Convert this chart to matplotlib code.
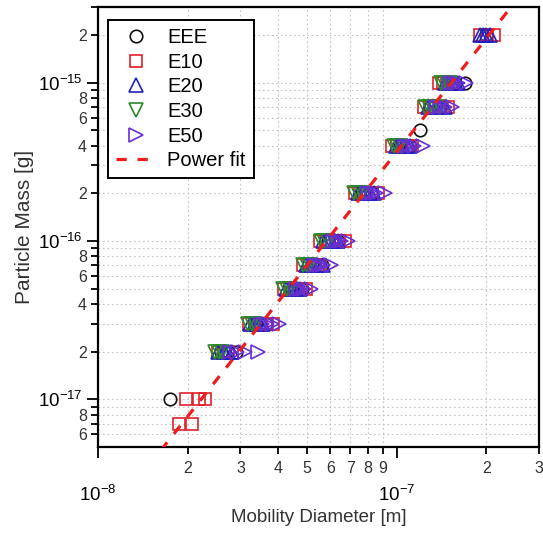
import matplotlib
matplotlib.use("Agg")
import matplotlib.pyplot as plt
import numpy as np

plt.rcParams['font.family'] = ['Liberation Sans', 'DejaVu Sans']
plt.rcParams['mathtext.fontset'] = 'custom'
plt.rcParams['mathtext.rm'] = 'Liberation Sans'
plt.rcParams['mathtext.it'] = 'Liberation Sans:italic'
plt.rcParams['mathtext.bf'] = 'Liberation Sans:bold'

# ---------------- data (diameter in nm, mass in g) ----------------
eee_d_nm = [17.4, 25.8, 29.0, 33.8, 36.5, 44.6, 48.2, 52.1, 56.3, 58.9, 63.7,
            76.6, 82.7, 102.7, 110.9, 119.8, 129.4, 139.8, 156.9, 169.5, 199.3]
eee_m = [1e-17, 2e-17, 2e-17, 3e-17, 3e-17, 5e-17, 5e-17, 7e-17, 7e-17, 1e-16, 1e-16,
         2e-16, 2e-16, 4e-16, 4e-16, 5e-16, 7e-16, 7e-16, 1e-15, 1e-15, 2e-15]

e10_d_nm = [18.7, 20.6,
            19.7, 21.8, 22.8,
            25.2, 26.5, 27.2,
            32.1, 33.5, 34.9, 36.8, 38.5,
            42.0, 44.0, 46.0, 48.0, 49.7,
            48.6, 51.0, 53.3, 55.5,
            55.4, 58.0, 60.8, 64.0, 67.2,
            72.6, 75.5, 78.4, 82.5, 86.6,
            96.5, 100.5, 104.3, 108.5, 112.6,
            123.5, 129.0, 134.5, 141.5, 148.7,
            138.5, 143.1, 148.0, 153.3,
            190.2, 201.0, 212.0]
e10_m = [7e-18, 7e-18,
         1e-17, 1e-17, 1e-17,
         2e-17, 2e-17, 2e-17,
         3e-17, 3e-17, 3e-17, 3e-17, 3e-17,
         5e-17, 5e-17, 5e-17, 5e-17, 5e-17,
         7e-17, 7e-17, 7e-17, 7e-17,
         1e-16, 1e-16, 1e-16, 1e-16, 1e-16,
         2e-16, 2e-16, 2e-16, 2e-16, 2e-16,
         4e-16, 4e-16, 4e-16, 4e-16, 4e-16,
         7e-16, 7e-16, 7e-16, 7e-16, 7e-16,
         1e-15, 1e-15, 1e-15, 1e-15,
         2e-15, 2e-15, 2e-15]

e20_d_nm = [25.2, 26.4, 27.3, 28.1,
            32.3, 33.2, 34.1, 35.0, 35.7,
            42.6, 43.8, 45.0, 46.2, 47.5,
            49.7, 51.0, 52.5, 54.5, 56.7,
            56.7, 58.5, 60.3, 62.0, 63.7,
            74.3, 76.6, 79.0, 81.5, 84.0,
            99.5, 102.0, 105.0, 108.0, 110.9,
            127.4, 131.5, 135.5, 140.0, 145.3,
            145.3, 149.0, 153.3, 157.0, 160.6,
            190.2, 195.0, 199.3, 205.5]
e20_m = [2e-17, 2e-17, 2e-17, 2e-17,
         3e-17, 3e-17, 3e-17, 3e-17, 3e-17,
         5e-17, 5e-17, 5e-17, 5e-17, 5e-17,
         7e-17, 7e-17, 7e-17, 7e-17, 7e-17,
         1e-16, 1e-16, 1e-16, 1e-16, 1e-16,
         2e-16, 2e-16, 2e-16, 2e-16, 2e-16,
         4e-16, 4e-16, 4e-16, 4e-16, 4e-16,
         7e-16, 7e-16, 7e-16, 7e-16, 7e-16,
         1e-15, 1e-15, 1e-15, 1e-15, 1e-15,
         2e-15, 2e-15, 2e-15, 2e-15]

e30_d_nm = [24.7, 25.4, 26.0,
            31.8, 32.7, 33.6,
            41.6, 42.8, 44.0,
            48.6, 50.0, 51.3,
            55.8, 57.3, 58.9,
            72.0, 74.3, 76.6,
            98.0, 100.5, 102.7,
            124.5, 128.0, 131.4, 139.8,
            140.9, 144.0, 147.5, 151.0]
e30_m = [2e-17, 2e-17, 2e-17,
         3e-17, 3e-17, 3e-17,
         5e-17, 5e-17, 5e-17,
         7e-17, 7e-17, 7e-17,
         1e-16, 1e-16, 1e-16,
         2e-16, 2e-16, 2e-16,
         4e-16, 4e-16, 4e-16,
         7e-16, 7e-16, 7e-16, 7e-16,
         1e-15, 1e-15, 1e-15, 1e-15]

e50_d_nm = [27.7, 29.3, 31.1, 34.3,
            35.4, 36.8, 38.2, 40.4,
            46.0, 47.5, 49.0, 51.7,
            53.3, 55.0, 56.7, 60.3,
            61.2, 63.0, 65.1, 68.8,
            80.2, 82.7, 85.3, 91.4,
            106.7, 110.5, 114.4, 122.6,
            135.5, 140.0, 145.3, 153.3,
            151.0, 155.5, 160.6, 170.8]
e50_m = [2e-17, 2e-17, 2e-17, 2e-17,
         3e-17, 3e-17, 3e-17, 3e-17,
         5e-17, 5e-17, 5e-17, 5e-17,
         7e-17, 7e-17, 7e-17, 7e-17,
         1e-16, 1e-16, 1e-16, 1e-16,
         2e-16, 2e-16, 2e-16, 2e-16,
         4e-16, 4e-16, 4e-16, 4e-16,
         7e-16, 7e-16, 7e-16, 7e-16,
         1e-15, 1e-15, 1e-15, 1e-15]

# power fit  m = a * d^b  (d in m, m in g)
fit_a = 18.34
fit_b = 2.386

series_labels = ['EEE', 'E10', 'E20', 'E30', 'E50']
x_minor_labels = ['2', '3', '4', '5', '6', '7', '8', '9', '2', '3']
y_minor_labels = ['6', '', '8', '', '2', '', '4', '', '6', '', '8', '',
                  '2', '', '4', '', '6', '', '8', '', '2', '']

# ---------------- figure ----------------
W, H = 543, 534
fig = plt.figure(figsize=(W / 100, H / 100), dpi=100)
ax = fig.add_axes([98 / W, (H - 447) / H, 441 / W, 440 / H])
ax.set_xscale('log')
ax.set_yscale('log')
ax.set_xlim(1e-8, 3e-7)
ax.set_ylim(5e-18, 3e-15)

# grid
grid_kw = dict(color='#c4c4c4', lw=0.8, ls=(0, (1.5, 2.5)), zorder=0)
x_minor = [2e-8, 3e-8, 4e-8, 5e-8, 6e-8, 7e-8, 8e-8, 9e-8, 2e-7, 3e-7]
y_major = [1e-17, 1e-16, 1e-15]
y_minor = [6e-18, 7e-18, 8e-18, 9e-18,
           2e-17, 3e-17, 4e-17, 5e-17, 6e-17, 7e-17, 8e-17, 9e-17,
           2e-16, 3e-16, 4e-16, 5e-16, 6e-16, 7e-16, 8e-16, 9e-16,
           2e-15, 3e-15]
for xv in x_minor[:-1]:
    ax.axvline(xv, **grid_kw)
for yv in y_major + y_minor:
    ax.axhline(yv, **grid_kw)

cols = {'EEE': '#111111', 'E10': '#e0202a', 'E20': '#2020c0',
        'E30': '#2a8a2a', 'E50': '#6630d0'}
mk = {'EEE': ('o', 9), 'E10': ('s', 9), 'E20': ('^', 10),
      'E30': ('v', 10), 'E50': ('>', 10)}
data = {'EEE': (eee_d_nm, eee_m), 'E10': (e10_d_nm, e10_m), 'E20': (e20_d_nm, e20_m),
        'E30': (e30_d_nm, e30_m), 'E50': (e50_d_nm, e50_m)}

for lab in series_labels:
    d, m = data[lab]
    ax.plot(np.array(d) * 1e-9, m, ls='none', marker=mk[lab][0], ms=mk[lab][1],
            mfc='none', mec=cols[lab], mew=1.2, label=lab, zorder=3)

dfit = np.logspace(np.log10(1.2e-8), np.log10(3e-7), 200)
ax.plot(dfit, fit_a * dfit ** fit_b, color='#ee1c1c', lw=2.3, ls=(0, (3.2, 3.4)),
        label='Power fit', zorder=4)

# ticks
ax.set_xticks([1e-8, 1e-7])
ax.set_xticklabels([r'$10^{-8}$', r'$10^{-7}$'])
ax.set_xticks(x_minor, minor=True)
ax.set_xticklabels(x_minor_labels, minor=True)
ax.set_yticks(y_major)
ax.set_yticklabels([r'$10^{-17}$', r'$10^{-16}$', r'$10^{-15}$'])
ax.set_yticks(y_minor, minor=True)
ax.set_yticklabels(y_minor_labels, minor=True)

ax.tick_params(which='both', direction='out', color='black', width=1.3,
               top=False, right=False)
ax.tick_params(axis='x', which='major', length=8, pad=19, labelsize=13.5)
ax.tick_params(axis='x', which='minor', length=5, pad=5, labelsize=11.5, labelcolor='#333333')
ax.tick_params(axis='y', which='major', length=8, pad=3, labelsize=13.5)
ax.tick_params(axis='y', which='minor', length=5, pad=3, labelsize=11.5, labelcolor='#333333')

for s in ax.spines.values():
    s.set_linewidth(1.6)

ax.set_xlabel('Mobility Diameter [m]', fontsize=13.5, color='#333333', labelpad=3)
ax.set_ylabel('Particle Mass [g]', fontsize=15, color='#333333', labelpad=3)

leg = ax.legend(loc='upper left', bbox_to_anchor=(10 / 441, (447 - 20) / 440),
                borderaxespad=0, fontsize=14.5, frameon=True, fancybox=False,
                edgecolor='black', framealpha=1, labelspacing=0.28,
                handlelength=2.0, handletextpad=0.55, borderpad=0.4)
leg.get_frame().set_linewidth(1.4)

fig.savefig('out.png', dpi=100)
